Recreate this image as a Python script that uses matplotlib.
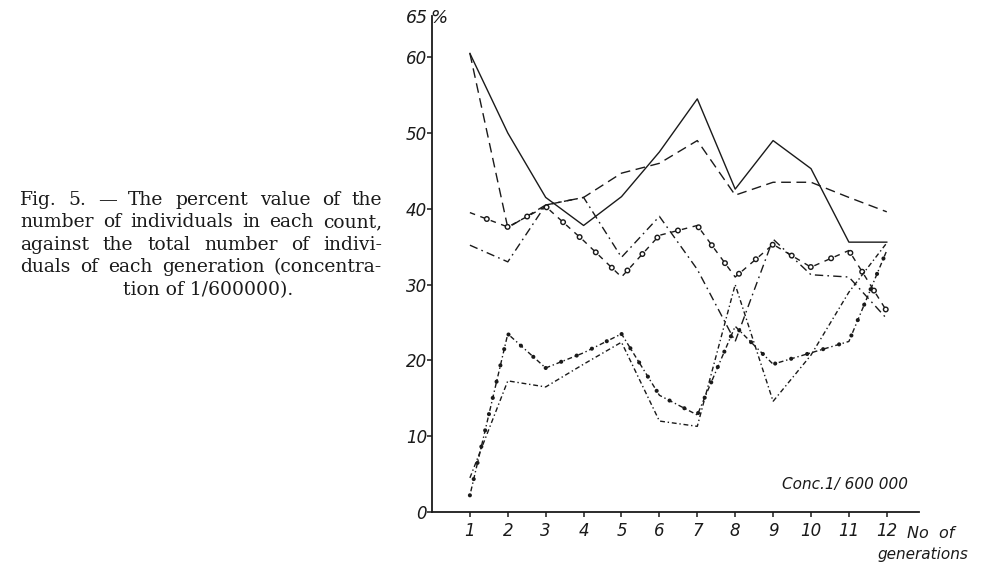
import matplotlib
matplotlib.use('Agg')
import matplotlib.pyplot as plt

# values
gens = [1, 2, 3, 4, 5, 6, 7, 8, 9, 10, 11, 12]
solid = [60.5, 50, 41.5, 37.8, 41.6, 47.5, 54.5, 42.6, 49, 45.3, 35.6, 35.6]
dashed = [60.5, 37.5, 40.5, 41.5, 44.7, 46, 49, 41.8, 43.5, 43.5, 41.5, 39.6]
dashdot = [35.2, 33, 40.5, 41.5, 33.6, 39, 32, 22.5, 36, 31.3, 31, 25.5]
circles = [39.5, 37.6, 40.3, 35.8, 31, 36.5, 37.8, 31, 35.3, 32.3, 34.5, 26.5]
dots = [2.2, 23.5, 19, 21, 23.5, 15.4, 12.8, 24.5, 19.5, 21, 22.5, 34.5]
squig = [4.5, 17.3, 16.5, 19.5, 22.4, 12, 11.3, 30, 14.6, 20.7, 29, 35.5]

yticks = [0, 10, 20, 30, 40, 50, 60]

caption = ["Fig. 5. \u2014 The percent value of the",
           "number of individuals in each count,",
           "against the total number of indivi-",
           "duals of each generation (concentra-",
           "tion of 1/600000)."]

W, H = 997, 565
ink = '#1a1a1a'
plt.rcParams['lines.scale_dashes'] = False

fig = plt.figure(figsize=(W / 100, H / 100), dpi=100)
ax = fig.add_axes([432 / W, 53 / H, 487 / W, 496.5 / H])

ax.plot(gens, solid, color=ink, lw=1.0)
ax.plot(gens, dashed, color=ink, lw=1.0, ls=(0, (7, 4)))
ax.plot(gens, dashdot, color=ink, lw=1.0, ls=(0, (6, 3, 1.2, 3)))

# dashed line with open circles along it
ax.plot(gens, circles, color=ink, lw=1.0, ls=(0, (4, 4)))
ax.plot(gens, circles, color=ink, lw=4.4, ls=(3, (0.01, 16)), dash_capstyle='round')
ax.plot(gens, circles, color='white', lw=2.3, ls=(3, (0.01, 16)), dash_capstyle='round')

# dotted line with filled dots
ax.plot(gens, dots, color=ink, lw=1.0, ls=(0, (1, 2, 3.5, 2)))
ax.plot(gens, dots, color=ink, lw=3.0, ls=(0, (0.01, 12)), dash_capstyle='round')

# dash-dot with squiggles
ax.plot(gens, squig, color=ink, lw=1.0, ls=(0, (3.5, 2, 1, 2)))

ax.set_xlim(0, 12.85)
ax.set_ylim(0, 65.5)
ax.set_xticks(gens)
ax.set_yticks(yticks)
for s in ['top', 'right']:
    ax.spines[s].set_visible(False)
for s in ['left', 'bottom']:
    ax.spines[s].set_linewidth(1.3)
    ax.spines[s].set_color(ink)
ax.tick_params(axis='y', direction='out', length=3.5, width=1.1, pad=0,
               labelsize=12, colors=ink)
ax.tick_params(axis='x', direction='out', length=3.5, width=1.1, pad=4,
               labelsize=12, colors=ink)
for lbl in ax.get_xticklabels() + ax.get_yticklabels():
    lbl.set_style('italic')


def px(x, y):
    return x / W, 1 - y / H


fig.text(*px(428, 18), '65', ha='right', va='center', fontsize=12.5, style='italic', color=ink)
fig.text(*px(430, 18), '%', ha='left', va='center', fontsize=13, style='italic', color=ink)
fig.text(*px(782, 485), 'Conc.1/ 600 000', ha='left', va='center', fontsize=11, style='italic', color=ink)
fig.text(*px(907, 533), 'No  of', ha='left', va='center', fontsize=11.5, style='italic', color=ink)
fig.text(*px(877, 555), 'generations', ha='left', va='center', fontsize=11, style='italic', color=ink)

# caption, justified line by line
renderer = fig.canvas.get_renderer()
baselines = [205, 227, 250, 272, 295]
for i, line in enumerate(caption):
    y = baselines[i]
    if i == len(caption) - 1:
        fig.text(*px(208, y), line, ha='center', va='baseline', fontsize=13.5,
                 family='DejaVu Serif', color=ink)
        continue
    words = line.split()
    arts = [fig.text(0, 0, w, fontsize=13.5, family='DejaVu Serif', color=ink,
                     va='baseline') for w in words]
    widths = [a.get_window_extent(renderer).width for a in arts]
    gap = (382 - 20 - sum(widths)) / (len(words) - 1)
    x = 20
    for a, w in zip(arts, widths):
        a.set_position(px(x, y))
        x += w + gap

fig.savefig('out.png', dpi=100, facecolor='white')
